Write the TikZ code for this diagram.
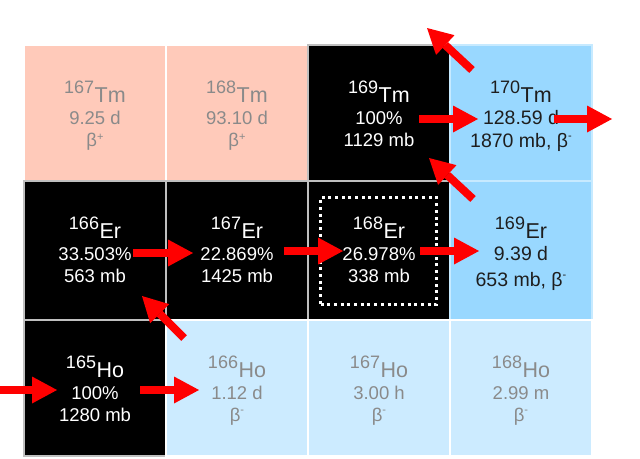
\documentclass[tikz,border=0pt]{standalone}
\usepackage{fontspec}
\setmainfont{Liberation Sans}
\usetikzlibrary{arrows.meta,calc}
\definecolor{pinkc}{HTML}{FFCABA}
\definecolor{bluec}{HTML}{99D8FF}
\definecolor{palec}{HTML}{CCEBFF}
\definecolor{grayt}{HTML}{8A8A8A}
\definecolor{darkt}{HTML}{1E1E1E}
\definecolor{redc}{HTML}{FF0000}
\newcommand\supfont{\fontsize{18}{18}\selectfont}
\newcommand\elfont{\fontsize{21.5}{21.5}\selectfont}
\newcommand\bplus{β\raisebox{6pt}{\fontsize{11}{11}\selectfont +}}
\newcommand\bminus{β\raisebox{7.5pt}{\fontsize{11}{11}\selectfont -}}
\newcommand\isocell[9]{%
  \node[cellbox, cell#4, minimum height=#3pt, anchor=north west] (#1) at (#2) {};
  \node[txt#4, anchor=base] (#1a) at ($(#1.north)+(0,57)$) {{\supfont\raisebox{8.5pt}{#5}}\kern0.5pt{\elfont #6}};
  \node[txt#4, anchor=base] (#1b) at ($(#1.north)+(0,79.5)$) {#7};
  \node[txt#4, anchor=base] (#1c) at ($(#1.north)+(0,#9)$) {#8};
}
\tikzset{
  cellbox/.style={rectangle, minimum width=142pt, outer sep=0pt, inner sep=0pt, line width=1.5pt},
  cellpink/.style={fill=pinkc, draw=white},
  cellblack/.style={fill=black, draw=white!75!black},
  cellblue/.style={fill=bluec, draw=white!45!bluec},
  cellpale/.style={fill=palec, draw=white},
  txtbase/.style={inner sep=0pt, font=\fontsize{18.5}{20}\selectfont},
  txtpink/.style={txtbase, text=grayt},
  txtblack/.style={txtbase, text=white},
  txtblue/.style={txtbase, text=darkt, font=\fontsize{19.5}{21}\selectfont},
  txtpale/.style={txtbase, text=grayt},
  redarrow/.style={draw=redc, line width=8pt, -{Triangle[length=25pt,width=27pt,line width=0pt]}},
  focusbox/.style={rectangle, draw=white, line width=2.5pt, dash pattern=on 3pt off 3.7pt, minimum width=116pt, minimum height=107pt, inner sep=0pt, outer sep=0pt}
}
\begin{document}
\begin{tikzpicture}[x=1pt, y=-1pt]
\useasboundingbox[fill=white] (0,0) rectangle (640,458);
% row 1
\isocell{tmA}{24,45}{136}{pink}{167}{Tm}{9.25 d}{\bplus}{101}
\isocell{tmB}{166,45}{136}{pink}{168}{Tm}{93.10 d}{\bplus}{101}
\isocell{tmC}{308,45}{136}{black}{169}{Tm}{100\%}{1129 mb}{101}
\isocell{tmD}{450,45}{136}{blue}{170}{Tm}{128.59 d}{1870 mb, \bminus}{102}
% row 2
\isocell{erA}{24,181}{139}{black}{166}{Er}{33.503\%}{563 mb}{101}
\isocell{erB}{166,181}{139}{black}{167}{Er}{22.869\%}{1425 mb}{101}
\isocell{erC}{308,181}{139}{black}{168}{Er}{26.978\%}{338 mb}{101}
\isocell{erD}{450,181}{139}{blue}{169}{Er}{9.39 d}{653 mb, \bminus}{105}
% row 3
\isocell{hoA}{24,320}{136}{black}{165}{Ho}{100\%}{1280 mb}{101}
\isocell{hoB}{166,320}{136}{pale}{166}{Ho}{1.12 d}{\bminus}{101}
\isocell{hoC}{308,320}{136}{pale}{167}{Ho}{3.00 h}{\bminus}{101}
\isocell{hoD}{450,320}{136}{pale}{168}{Ho}{2.99 m}{\bminus}{101}
% focus box
\node[focusbox] (focus) at (378.5,251) {};
% arrow end points
\coordinate (a1s) at (472,70);  \coordinate (a1e) at (427,28);
\coordinate (a2s) at (419,119); \coordinate (a2e) at (478,119);
\coordinate (a3s) at (554,119); \coordinate (a3e) at (612,119);
\coordinate (a4s) at (473,199); \coordinate (a4e) at (429,158);
\coordinate (a5s) at (133,253); \coordinate (a5e) at (193,253);
\coordinate (a6s) at (284,251); \coordinate (a6e) at (343,251);
\coordinate (a7s) at (420,251); \coordinate (a7e) at (479,251);
\coordinate (a8s) at (184,338); \coordinate (a8e) at (142,296);
\coordinate (a9s) at (0,390);   \coordinate (a9e) at (57,390);
\coordinate (a10s) at (140,390); \coordinate (a10e) at (199,390);
\foreach \i in {1,...,10} {\draw[redarrow] (a\i s) -- (a\i e);}
\end{tikzpicture}
\end{document}
